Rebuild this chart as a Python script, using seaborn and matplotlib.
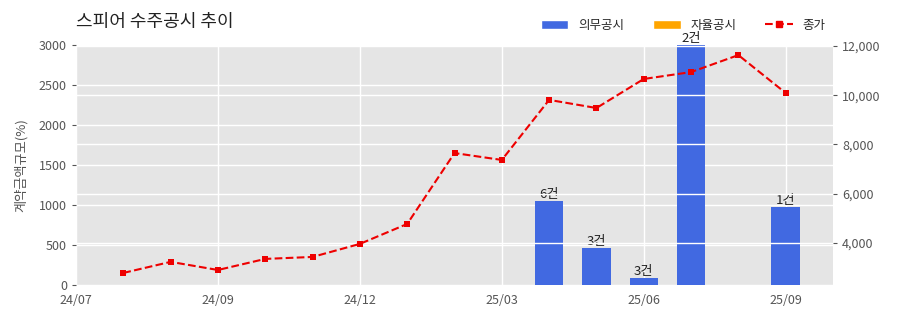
import matplotlib
matplotlib.use("Agg")
import matplotlib.pyplot as plt
import seaborn as sns
import pandas as pd
from matplotlib.patches import Patch
from matplotlib.lines import Line2D

# ---- data ----
month_pos = list(range(1, 16))  # months 24/08 .. 25/10 positions on axis
price = [2780, 3230, 2900, 3350, 3430, 3960, 4770, 7650, 7370, 9810, 9480, 10660, 10940, 11630, 10090]
bar_pos = [10, 11, 12, 13, 15]
bar_vals = [1050, 462, 88, 3000, 975]
bar_labels = ["6건", "3건", "3건", "2건", "1건"]
tick_pos = [0, 3, 6, 9, 12, 15]
tick_labels = ["24/07", "24/09", "24/12", "25/03", "25/06", "25/09"]
title = "스피어 수주공시 추이"
ylabel = "계약금액규모(%)"
legend_names = ["의무공시", "자율공시", "종가"]

sns.set_theme(style="darkgrid")
plt.rcParams['font.family'] = ['Noto Sans CJK KR', 'DejaVu Sans']
plt.rcParams['axes.unicode_minus'] = False

fig = plt.figure(figsize=(9, 3.23), dpi=100)
ax = fig.add_axes([76/900, 38/323, (833-76)/900, (285-45)/323])
ax.set_facecolor("#E5E5E5")
ax.grid(True, color="white", linewidth=1)

bars_df = pd.DataFrame({"x": bar_pos, "v": bar_vals})
sns.barplot(data=bars_df, x="x", y="v", native_scale=True, width=0.6,
            color="#4169E1", saturation=1, ax=ax, zorder=2, linewidth=0)
for p, v, lab in zip(bar_pos, bar_vals, bar_labels):
    ax.text(p, v, lab, ha="center", va="bottom", fontsize=9.5, color="#222222")

ax.set_xlim(0, 16)
ax.set_ylim(0, 3000)
ax.set_yticks([0, 500, 1000, 1500, 2000, 2500, 3000])
ax.set_xticks(tick_pos)
ax.set_xticklabels(tick_labels)
ax.set_xlabel("")
ax.set_ylabel(ylabel, color="#555555", fontsize=9.5, labelpad=8)
ax.tick_params(axis="both", colors="#555555", labelsize=9, length=3, width=0.8, direction="out")

ax2 = ax.twinx()
line_df = pd.DataFrame({"x": month_pos, "p": price})
sns.lineplot(data=line_df, x="x", y="p", ax=ax2, color="#EE0000", linestyle="--",
             linewidth=1.5, marker="s", markersize=5, markeredgewidth=0)
ax2.set_ylim(2290, 12040)
ax2.set_yticks([4000, 6000, 8000, 10000, 12000])
ax2.set_yticklabels(["4,000", "6,000", "8,000", "10,000", "12,000"])
ax2.grid(True, axis="y", color="white", linewidth=1)
ax2.grid(False, axis="x")
ax2.set_xlim(0, 16)
ax2.set_ylabel("")
ax2.set_xlabel("")
ax2.tick_params(axis="y", colors="#555555", labelsize=9, length=3, width=0.8, direction="out")
for s in ax2.spines.values():
    s.set_visible(False)
for s in ax.spines.values():
    s.set_visible(False)

fig.text(76/900, 1 - 22/323, title, fontsize=13, color="#222222", va="center", ha="left")

handles = [Patch(facecolor="#4169E1"), Patch(facecolor="#FFA500"),
           Line2D([0], [0], color="#EE0000", linestyle="--", marker="s", markersize=5, linewidth=1.5)]
fig.legend(handles, legend_names, loc="center right", bbox_to_anchor=(0.93, 1 - 25/323),
           ncol=3, frameon=False, fontsize=9, handlelength=2.2, columnspacing=2.3)

fig.savefig("out.png", dpi=100)
